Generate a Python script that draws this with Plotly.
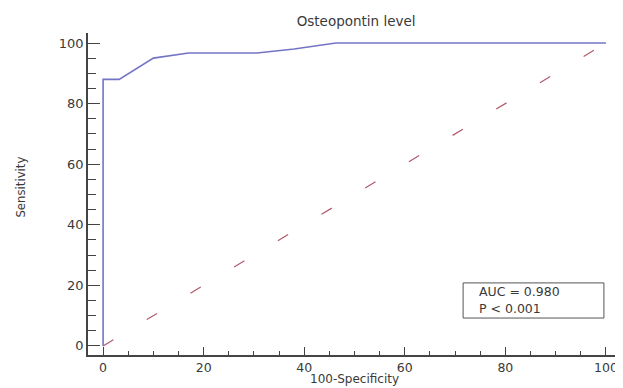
import plotly.graph_objects as go

# ROC curve points (100-Specificity, Sensitivity)
fpr = [0, 0, 3.2, 10, 17, 30.6, 38, 46.3, 100]
tpr = [0, 88, 88, 95, 96.7, 96.7, 98, 100, 100]
ref_x = [0, 100]
ref_y = [0, 100]
title_text = "Osteopontin level"
x_title = "100-Specificity"
y_title = "Sensitivity"
auc_text = "AUC = 0.980"
p_text = "P &lt; 0.001"
tick_vals = [0, 20, 40, 60, 80, 100]

FONT = "DejaVu Sans, Liberation Sans, sans-serif"
TXT = "#3a3a3a"
fig = go.Figure()
fig.add_trace(go.Scatter(x=ref_x, y=ref_y, mode="lines",
                         line=dict(color="#b05a6a", width=1.2, dash="12px,39px"),
                         showlegend=False, hoverinfo="skip"))
fig.add_trace(go.Scatter(x=fpr, y=tpr, mode="lines",
                         line=dict(color="#7474c4", width=1.6),
                         showlegend=False))

fig.update_layout(
    width=615, height=380,
    margin=dict(l=80, r=3, t=25, b=33, autoexpand=False),
    paper_bgcolor="white", plot_bgcolor="white",
    font=dict(family=FONT, color=TXT, size=12),
    title=dict(text=title_text, x=0.566, xanchor="center", y=0.966, yanchor="middle",
               font=dict(size=13.5, color=TXT, family=FONT)),
    xaxis=dict(range=[-3, 102.8], tickvals=tick_vals, showgrid=False, zeroline=False,
               showline=True, linecolor="#444", linewidth=1.5, automargin=False,
               ticks="inside", ticklen=8, tickwidth=1.2, tickcolor="#444",
               minor=dict(dtick=5, tick0=0, ticks="inside", ticklen=4, tickcolor="#444", tickwidth=1.2, showgrid=False),
               tickfont=dict(size=12.5)),
    yaxis=dict(range=[-3, 103.3], tickvals=tick_vals, showgrid=False, zeroline=False,
               showline=True, linecolor="#444", linewidth=1.5, automargin=False,
               ticks="inside", ticklen=12, tickwidth=1.2, tickcolor="#444",
               minor=dict(dtick=5, tick0=0, ticks="inside", ticklen=8, tickcolor="#444", tickwidth=1.2, showgrid=False),
               tickfont=dict(size=13)),
)
fig.add_annotation(x=0.5, y=0, xref="paper", yref="paper", yanchor="bottom",
                   yshift=-33, text=x_title, showarrow=False,
                   font=dict(size=12, color=TXT))
fig.add_annotation(x=0, y=0.52, xref="paper", yref="paper", xanchor="center",
                   xshift=-67, text=y_title, showarrow=False, textangle=-90,
                   font=dict(size=13, color=TXT,
                             family="DejaVu Sans Condensed, Liberation Sans Narrow, sans-serif"))
# stats box
fig.add_shape(type="rect", xref="x", yref="y", x0=71.6, x1=99.6, y0=9.2, y1=20.8,
              line=dict(color="#555", width=1), fillcolor="white", layer="above")
fig.add_annotation(x=74.4, y=18.0, xref="x", yref="y", xanchor="left", yanchor="middle",
                   text=auc_text, showarrow=False, font=dict(size=12.5, color=TXT))
fig.add_annotation(x=74.4, y=12.3, xref="x", yref="y", xanchor="left", yanchor="middle",
                   text=p_text, showarrow=False, font=dict(size=12.5, color=TXT))
fig.write_html("out.html")
